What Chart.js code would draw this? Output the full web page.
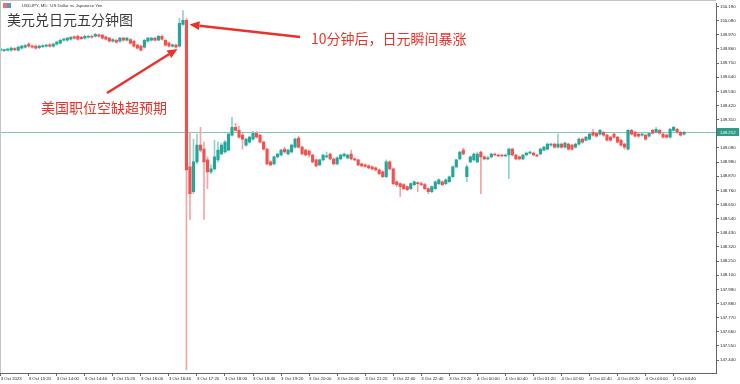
<!DOCTYPE html>
<html>
<head>
<meta charset="utf-8">
<script src="https://cdn.jsdelivr.net/npm/chart.js@4/dist/chart.umd.min.js"></script>
<style>
html,body{margin:0;padding:0;background:#fff;}
</style>
</head>
<body>
<canvas id="c" width="740" height="384"></canvas>
<script>
// USDJPY M5, 3 Oct 12:40 -> 4 Oct 04:55, one entry per 5-minute bar
var opens = [
149.851,149.847,149.851,149.851,149.863,149.851,149.867,149.874,149.897,149.882,
149.882,149.870,149.878,149.882,149.893,149.882,149.897,149.905,149.928,149.928,
149.936,149.955,149.959,149.951,149.944,149.951,149.959,149.959,149.970,149.967,
149.955,149.944,149.920,149.928,149.920,149.944,149.928,149.932,149.920,149.890,
149.882,149.874,149.920,149.928,149.944,149.928,149.959,149.928,149.905,149.882,
149.890,149.882,150.051,150.082,148.943,148.750,148.981,149.112,149.081,148.997,
148.904,148.927,148.997,149.043,149.058,149.073,149.189,149.251,149.227,149.189,
149.112,149.135,149.158,149.204,149.189,149.135,149.081,148.981,148.966,149.020,
149.035,149.081,149.043,149.058,149.096,149.166,149.096,149.073,149.066,149.035,
148.997,148.958,148.997,149.020,149.043,149.004,148.966,149.004,149.027,149.012,
149.043,149.004,148.997,148.966,148.958,148.950,148.943,148.935,148.919,148.904,
148.866,148.981,148.927,148.827,148.812,148.804,148.789,148.773,148.804,148.819,
148.812,148.804,148.773,148.750,148.773,148.812,148.827,148.812,148.827,148.866,
148.943,149.004,149.073,148.866,148.981,148.997,148.981,149.058,149.020,149.004,
149.020,149.043,149.035,149.035,149.027,149.035,149.081,149.035,149.020,149.004,
149.035,149.050,149.050,149.035,149.043,149.073,149.081,149.112,149.120,149.096,
149.120,149.096,149.120,149.112,149.096,149.120,149.158,149.150,149.158,149.212,
149.204,149.197,149.212,149.189,149.174,149.197,149.174,149.150,149.120,149.081,
149.227,149.212,149.197,149.189,149.189,149.181,149.227,149.212,149.227,149.197,
149.189,149.174,149.227,149.235,149.212,149.197
];
var highs = [
149.863,149.859,149.867,149.874,149.870,149.882,149.890,149.897,149.909,149.890,
149.890,149.890,149.890,149.897,149.901,149.905,149.920,149.936,149.944,149.951,
149.959,149.963,149.967,149.959,149.967,149.967,149.967,149.982,149.978,149.974,
149.959,149.951,149.940,149.936,149.951,149.951,149.951,149.940,149.928,149.897,
149.890,149.936,149.951,149.951,149.951,149.967,149.967,149.936,149.913,149.897,
149.897,150.098,150.159,150.098,149.212,149.158,149.197,149.251,149.135,149.020,
148.958,149.150,149.135,149.127,149.150,149.204,149.328,149.281,149.258,149.204,
149.166,149.181,149.220,149.220,149.197,149.143,149.089,148.989,149.027,149.050,
149.081,149.096,149.081,149.120,149.166,149.181,149.104,149.081,149.073,149.043,
149.004,149.004,149.043,149.058,149.050,149.012,149.020,149.043,149.050,149.043,
149.073,149.012,149.004,148.973,148.966,148.958,148.950,148.943,148.927,148.912,
148.997,148.989,148.935,148.835,148.819,148.812,148.796,148.819,148.835,148.827,
148.827,148.812,148.781,148.796,148.835,148.850,148.835,148.850,148.873,148.950,
149.004,149.066,149.089,148.958,149.027,149.050,149.058,149.066,149.027,149.027,
149.050,149.050,149.043,149.043,149.043,149.089,149.089,149.043,149.027,149.043,
149.058,149.066,149.058,149.043,149.089,149.104,149.127,149.127,149.127,149.197,
149.127,149.135,149.127,149.120,149.127,149.166,149.166,149.181,149.204,149.235,
149.212,149.235,149.220,149.197,149.181,149.204,149.181,149.158,149.127,149.235,
149.235,149.220,149.204,149.204,149.197,149.212,149.235,149.251,149.235,149.204,
149.197,149.243,149.258,149.243,149.220,149.220
];
var lows = [
149.843,149.840,149.843,149.843,149.847,149.843,149.859,149.867,149.874,149.867,
149.859,149.863,149.870,149.874,149.874,149.874,149.890,149.897,149.920,149.920,
149.928,149.936,149.928,149.932,149.936,149.944,149.944,149.951,149.951,149.936,
149.928,149.913,149.913,149.905,149.913,149.920,149.920,149.897,149.874,149.859,
149.843,149.867,149.913,149.920,149.920,149.924,149.928,149.882,149.874,149.874,
149.867,149.874,150.044,147.364,148.534,148.735,148.966,149.058,148.534,148.773,
148.889,148.919,148.981,149.035,149.050,149.066,149.181,149.220,149.166,149.081,
149.104,149.127,149.150,149.166,149.127,149.073,148.958,148.950,148.958,149.012,
149.027,149.050,149.035,149.050,149.089,149.089,149.035,149.027,149.020,148.973,
148.943,148.950,148.989,149.012,148.997,148.958,148.958,148.997,149.020,149.004,
148.997,148.989,148.950,148.943,148.939,148.927,148.919,148.912,148.881,148.858,
148.858,148.919,148.804,148.789,148.712,148.765,148.758,148.765,148.796,148.750,
148.796,148.765,148.735,148.742,148.765,148.804,148.796,148.804,148.819,148.858,
148.935,148.997,149.035,148.827,148.973,148.989,148.973,148.735,148.997,148.997,
149.012,149.027,149.020,149.020,149.020,148.850,149.027,148.997,148.997,148.997,
149.027,149.043,149.027,149.020,149.035,149.066,149.073,149.104,149.089,149.089,
149.089,149.089,149.073,149.073,149.089,149.112,149.127,149.143,149.150,149.181,
149.174,149.189,149.181,149.143,149.143,149.166,149.127,149.104,149.081,149.073,
149.189,149.174,149.174,149.181,149.150,149.174,149.197,149.204,149.197,149.166,
149.166,149.166,149.220,149.204,149.181,149.189
];
var closes = [
149.855,149.855,149.859,149.867,149.855,149.874,149.882,149.886,149.882,149.874,
149.867,149.882,149.886,149.890,149.882,149.897,149.913,149.928,149.936,149.944,
149.951,149.944,149.936,149.940,149.959,149.959,149.951,149.974,149.959,149.944,
149.936,149.920,149.932,149.913,149.944,149.928,149.944,149.905,149.882,149.867,
149.851,149.928,149.944,149.944,149.928,149.959,149.936,149.890,149.882,149.893,
149.874,150.059,150.082,148.919,148.735,148.981,149.112,149.073,148.981,148.904,
148.927,149.020,149.073,149.112,149.135,149.197,149.251,149.227,149.174,149.158,
149.158,149.174,149.204,149.174,149.135,149.081,148.966,148.958,149.020,149.043,
149.073,149.058,149.073,149.112,149.158,149.096,149.043,149.035,149.035,148.981,
148.950,148.997,149.035,149.027,149.004,148.966,149.012,149.035,149.043,149.035,
149.004,148.997,148.958,148.950,148.946,148.935,148.927,148.919,148.889,148.866,
148.981,148.927,148.812,148.804,148.789,148.773,148.765,148.812,148.827,148.812,
148.804,148.773,148.750,148.789,148.827,148.842,148.804,148.842,148.866,148.943,
148.997,149.058,149.043,148.943,149.020,149.043,149.043,149.020,149.004,149.012,
149.043,149.035,149.027,149.027,149.035,149.081,149.035,149.004,149.004,149.035,
149.050,149.058,149.035,149.027,149.081,149.096,149.120,149.120,149.096,149.120,
149.096,149.127,149.081,149.081,149.120,149.158,149.135,149.174,149.197,149.189,
149.181,149.227,149.189,149.150,149.150,149.174,149.135,149.112,149.096,149.227,
149.197,149.181,149.181,149.197,149.158,149.204,149.204,149.235,149.204,149.174,
149.174,149.235,149.251,149.212,149.189,149.212
];
// time axis labels, one every 8 bars (40 minutes)
var xLabels = ['3 Oct 2023','3 Oct 13:20','3 Oct 14:00','3 Oct 14:40','3 Oct 15:20','3 Oct 16:00',
  '3 Oct 16:40','3 Oct 17:20','3 Oct 18:00','3 Oct 18:40','3 Oct 19:20','3 Oct 20:00','3 Oct 20:40',
  '3 Oct 21:20','3 Oct 22:00','3 Oct 22:40','3 Oct 23:20','4 Oct 00:00','4 Oct 00:40','4 Oct 01:20',
  '4 Oct 02:00','4 Oct 02:40','4 Oct 03:20','4 Oct 04:00','4 Oct 04:40'];
var yTicks = [150.190,150.080,149.970,149.860,149.750,149.640,149.530,149.420,149.310,149.200,
  149.090,148.980,148.870,148.760,148.650,148.540,148.430,148.320,148.210,148.100,147.990,
  147.880,147.770,147.660,147.550,147.440];

var upBody = '#26a69a', downBody = '#ef5350', upWick = '#8fd3c8', downWick = '#f5a3a3';
var red = '#e8332b';

var wickData = [], bodyData = [], wickCols = [], bodyCols = [];
for (var i = 0; i < opens.length; i++) {
    var up = closes[i] >= opens[i];
    wickData.push({x: i, y: [lows[i], highs[i]]});
    bodyData.push({x: i, y: [opens[i], closes[i]]});
    wickCols.push(up ? upWick : downWick);
    bodyCols.push(up ? upBody : downBody);
}

function arrow(ctx, x1, y1, x2, y2, w, head){
    var a = Math.atan2(y2 - y1, x2 - x1);
    var bx = x2 - head * Math.cos(a), by = y2 - head * Math.sin(a);
    ctx.strokeStyle = red; ctx.fillStyle = red; ctx.lineWidth = w;
    ctx.beginPath(); ctx.moveTo(x1, y1); ctx.lineTo(bx, by); ctx.stroke();
    ctx.beginPath();
    ctx.moveTo(x2, y2);
    ctx.lineTo(bx + head * 0.45 * Math.sin(a), by - head * 0.45 * Math.cos(a));
    ctx.lineTo(bx - head * 0.45 * Math.sin(a), by + head * 0.45 * Math.cos(a));
    ctx.closePath(); ctx.fill();
}

var overlay = {
    id: 'overlay',
    beforeDatasetsDraw: function(chart){
        var ctx = chart.ctx, a = chart.chartArea;
        var py = Math.round(chart.scales.y.getPixelForValue(closes[closes.length - 1])) + 0.5;
        ctx.save();
        ctx.strokeStyle = '#83c7ba'; ctx.lineWidth = 1;
        ctx.beginPath(); ctx.moveTo(a.left, py); ctx.lineTo(a.right, py); ctx.stroke();
        ctx.restore();
    },
    afterDraw: function(chart){
        var ctx = chart.ctx, a = chart.chartArea, ys = chart.scales.y, xs = chart.scales.x;
        var last = closes[closes.length - 1];
        var py = Math.round(ys.getPixelForValue(last));
        ctx.save();
        // frame
        ctx.strokeStyle = '#c4c4c4'; ctx.lineWidth = 1;
        ctx.beginPath(); ctx.moveTo(a.left + 0.5, a.bottom); ctx.lineTo(a.left + 0.5, 0.5); ctx.lineTo(a.right, 0.5); ctx.stroke();
        // current price tag
        ctx.fillStyle = '#2f9c88';
        ctx.fillRect(a.right + 1, py - 4, 22, 8);
        ctx.fillStyle = '#fff'; ctx.font = '4.3px "Liberation Sans"';
        ctx.textBaseline = 'middle'; ctx.textAlign = 'left';
        ctx.fillText(last.toFixed(3), a.right + 4, py + 0.5);
        // header
        ctx.fillStyle = '#e57373'; ctx.fillRect(3, 3, 4, 5);
        ctx.fillStyle = '#6a8fd0'; ctx.fillRect(7, 3, 4, 5);
        ctx.fillStyle = '#333'; ctx.font = '4.3px "Liberation Sans"';
        ctx.fillText('USDJPY, M5:  US Dollar vs Japanese Yen', 22, 6);
        ctx.fillStyle = '#3a3a3a'; ctx.font = '14px "Noto Sans CJK SC"';
        ctx.fillText('美元兑日元五分钟图', 7, 20);
        // annotations
        var tip1x = xs.getPixelForValue(51) - 2, tip1y = ys.getPixelForValue(149.86);
        var tip2x = xs.getPixelForValue(53) + 3, tip2y = ys.getPixelForValue(150.05);
        arrow(ctx, 107, 93, tip1x, tip1y, 2.5, 10);
        arrow(ctx, 300, 37, tip2x, tip2y, 2.5, 10);
        ctx.fillStyle = red; ctx.font = '14px "Noto Sans CJK SC"';
        ctx.fillText('10分钟后，日元瞬间暴涨', 311, 39);
        ctx.fillText('美国职位空缺超预期', 41, 108);
        ctx.restore();
    }
};

new Chart(document.getElementById('c'), {
    data: {
        datasets: [
            {type: 'bar', data: wickData, backgroundColor: wickCols, borderWidth: 0,
             grouped: false, barThickness: 1, maxBarThickness: 1, order: 2},
            {type: 'bar', data: bodyData, backgroundColor: bodyCols, borderWidth: 0,
             grouped: false, barThickness: 2.5, maxBarThickness: 2.5, minBarLength: 1, order: 1}
        ]
    },
    options: {
        responsive: false,
        animation: false,
        layout: {padding: {left: 0, top: 0, right: 0, bottom: 0}},
        plugins: {legend: {display: false}, tooltip: {enabled: false}},
        scales: {
            x: {
                type: 'linear', offset: false,
                min: -0.2, max: 204.1,
                afterBuildTicks: function(s){ s.ticks = xLabels.map(function(l, k){ return {value: k * 8}; }); },
                afterFit: function(s){ s.height = 11; },
                grid: {drawOnChartArea: false, offset: false, tickLength: 3, color: '#666'},
                border: {display: true, color: '#666'},
                ticks: {autoSkip: false, maxRotation: 0, minRotation: 0, align: 'start', padding: 0,
                        color: '#222', font: {size: 4.3, family: 'Liberation Sans'},
                        callback: function(v){ return xLabels[v / 8]; }}
            },
            y: {
                type: 'linear', position: 'right',
                min: 147.339, max: 150.213,
                afterBuildTicks: function(s){ s.ticks = yTicks.map(function(v){ return {value: v}; }); },
                afterFit: function(s){ s.width = 24; },
                grid: {drawOnChartArea: false, tickLength: 3, color: '#666'},
                border: {display: true, color: '#666'},
                ticks: {padding: 1, color: '#222', font: {size: 4.3, family: 'Liberation Sans'},
                        callback: function(v){ return v.toFixed(3); }}
            }
        }
    },
    plugins: [overlay]
});
</script>
</body>
</html>
